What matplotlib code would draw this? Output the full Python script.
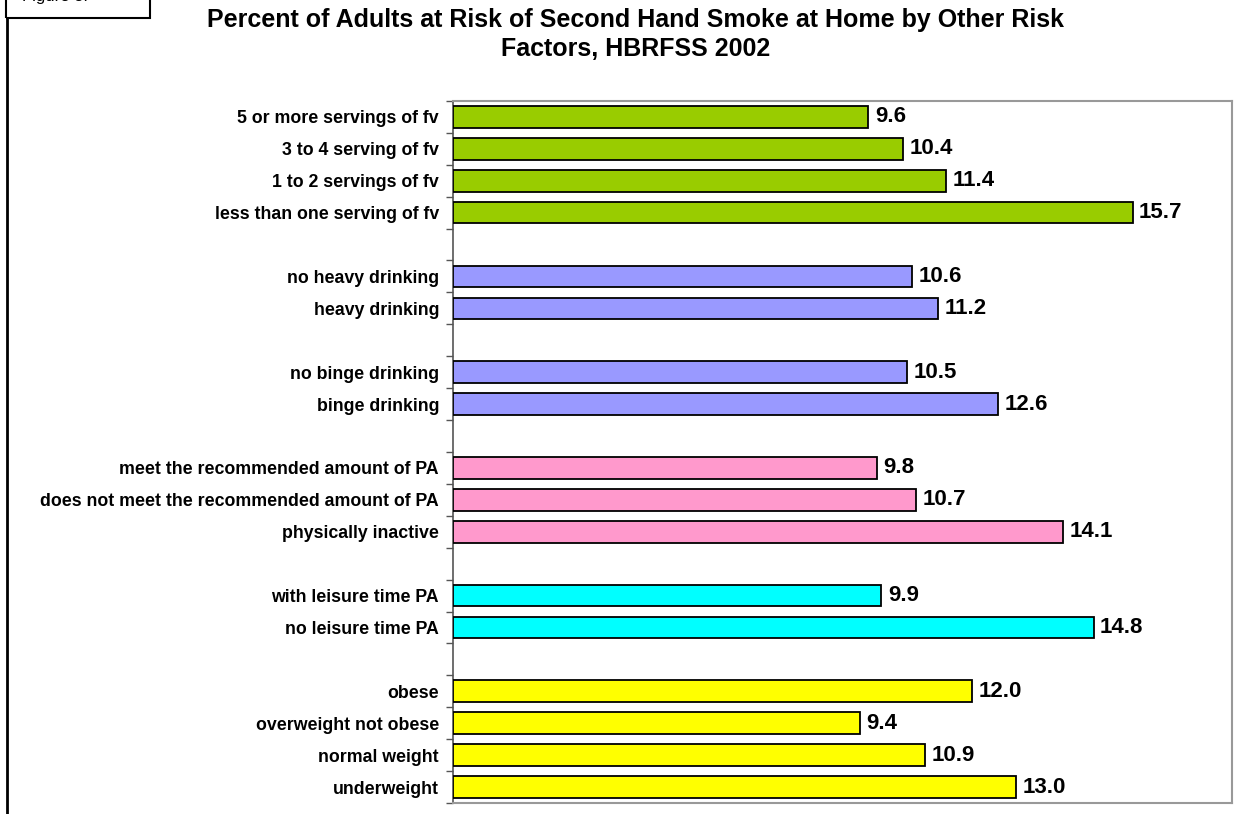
import numpy as np
import matplotlib.pyplot as plt
from matplotlib.patches import Rectangle
from matplotlib.lines import Line2D

plt.rcParams['font.family'] = ['Liberation Sans', 'DejaVu Sans']

# groups, top to bottom
fv_labels = ['5 or more servings of fv', '3 to 4 serving of fv',
             '1 to 2 servings of fv', 'less than one serving of fv']
fv_values = [9.6, 10.4, 11.4, 15.7]

heavy_labels = ['no heavy drinking', 'heavy drinking']
heavy_values = [10.6, 11.2]

binge_labels = ['no binge drinking', 'binge drinking']
binge_values = [10.5, 12.6]

pa_labels = ['meet the recommended amount of PA',
             'does not meet the recommended amount of PA', 'physically inactive']
pa_values = [9.8, 10.7, 14.1]

leisure_labels = ['with leisure time PA', 'no leisure time PA']
leisure_values = [9.9, 14.8]

weight_labels = ['obese', 'overweight not obese', 'normal weight', 'underweight']
weight_values = [12.0, 9.4, 10.9, 13.0]

group_colors = ['#99CC00', '#9999FF', '#9999FF', '#FF99CC', '#00FFFF', '#FFFF00']

groups = [(fv_labels, fv_values), (heavy_labels, heavy_values),
          (binge_labels, binge_values), (pa_labels, pa_values),
          (leisure_labels, leisure_values), (weight_labels, weight_values)]

fig = plt.figure(figsize=(12.43, 8.14), dpi=100)
ax = fig.add_axes([0.3644, 0.0135, 0.9912 - 0.3644, 0.876 - 0.0135])

# lay the groups out with one empty slot between them
pos, labs, vals, cols = [], [], [], []
slot = 0
for g, (lab, val) in enumerate(groups):
    for l, v in zip(lab, val):
        pos.append(slot + 0.5)
        labs.append(l)
        vals.append(v)
        cols.append(group_colors[g])
        slot += 1
    if g < len(groups) - 1:
        slot += 1
nslots = slot

ax.barh(pos, vals, height=0.68, color=cols, edgecolor='black', linewidth=1.3, zorder=3)
for p, v in zip(pos, vals):
    ax.text(v + 0.15, p, f'{v:.1f}', va='center', ha='left',
            fontsize=16, fontweight='bold')

ax.set_xlim(0, 18)
ax.set_ylim(nslots, 0)
ax.set_xticks([])
ax.set_yticks(pos)
ax.set_yticklabels(labs, fontsize=12.8, fontweight='bold')
ax.set_yticks(np.arange(nslots + 1), minor=True)
ax.tick_params(axis='y', which='major', length=0, pad=10)
ax.tick_params(axis='y', which='minor', length=5, width=1, color='#555555', direction='out')

for s in ['top', 'right', 'bottom']:
    ax.spines[s].set_color('#999999')
    ax.spines[s].set_linewidth(1.5)
ax.spines['left'].set_color('#555555')
ax.spines['left'].set_linewidth(1.2)

fig.text(0.511, 0.99, 'Percent of Adults at Risk of Second Hand Smoke at Home by Other Risk\nFactors, HBRFSS 2002',
         ha='center', va='top', fontsize=18, fontweight='bold', linespacing=1.25)

# partial "Figure" box and page edge at top left
fig.add_artist(Rectangle((6 / 1243, 1 - 18 / 814), 144 / 1243, 30 / 814,
                         transform=fig.transFigure, fill=False, edgecolor='black', linewidth=1.5))
fig.text(22 / 1243, 1 + 4 / 814, 'Figure 3.', ha='left', va='center', fontsize=12)
fig.add_artist(Line2D([7 / 1243, 7 / 1243], [0, 1 - 18 / 814], transform=fig.transFigure,
                      color='black', linewidth=2))

fig.savefig('out.png', dpi=100)
